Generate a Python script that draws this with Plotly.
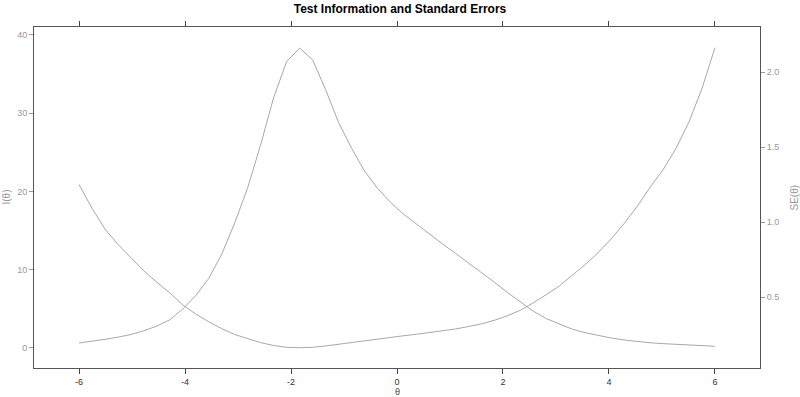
import plotly.graph_objects as go

theta = [-6.000, -5.755, -5.510, -5.265, -5.020, -4.776, -4.531, -4.286, -4.041, -3.796,
         -3.551, -3.306, -3.061, -2.816, -2.571, -2.327, -2.082, -1.837, -1.592, -1.347,
         -1.102, -0.857, -0.612, -0.367, -0.122, 0.122, 0.367, 0.612, 0.857, 1.102,
         1.347, 1.592, 1.837, 2.082, 2.327, 2.571, 2.816, 3.061, 3.306, 3.551,
         3.796, 4.041, 4.286, 4.531, 4.776, 5.020, 5.265, 5.510, 5.755, 6.000]

information = [0.64, 0.84, 1.1, 1.38, 1.72, 2.2, 2.8, 3.6, 5.0, 6.7,
               8.9, 12.0, 16.0, 20.5, 26.0, 32.0, 36.6, 38.3, 36.8, 33.0,
               28.8, 25.5, 22.6, 20.4, 18.6, 17.1, 15.8, 14.6, 13.3, 12.1,
               10.9, 9.7, 8.4, 7.1, 5.9, 4.7, 3.75, 3.05, 2.4, 1.95,
               1.58, 1.27, 1.02, 0.82, 0.66, 0.55, 0.45, 0.36, 0.28, 0.214]

std_error = [1.250, 1.091, 0.953, 0.851, 0.762, 0.674, 0.598, 0.527, 0.447, 0.386,
             0.335, 0.289, 0.250, 0.221, 0.196, 0.177, 0.165, 0.162, 0.165, 0.174,
             0.186, 0.198, 0.210, 0.221, 0.232, 0.242, 0.252, 0.262, 0.274, 0.287,
             0.303, 0.321, 0.345, 0.375, 0.412, 0.461, 0.516, 0.573, 0.645, 0.716,
             0.796, 0.887, 0.990, 1.104, 1.231, 1.348, 1.491, 1.667, 1.890, 2.162]

x_ticks = [-6, -4, -2, 0, 2, 4, 6]
y_ticks = [0, 10, 20, 30, 40]
y2_ticks = [0.5, 1.0, 1.5, 2.0]
y2_labels = ["0.5", "1.0", "1.5", "2.0"]

FONT = "Liberation Sans, Arial, sans-serif"
LINE = "#a8a8a8"
W, H = 800, 397
L, R, T, B = 34, 40, 27, 29

fig = go.Figure()
fig.add_trace(go.Scatter(x=theta, y=information, mode="lines",
                         line=dict(color=LINE, width=1), yaxis="y", showlegend=False))
fig.add_trace(go.Scatter(x=theta, y=std_error, mode="lines",
                         line=dict(color=LINE, width=1), yaxis="y2", showlegend=False))

fig.update_layout(
    width=W, height=H,
    margin=dict(l=L, r=R, t=T, b=B, autoexpand=False),
    paper_bgcolor="white", plot_bgcolor="white",
    font=dict(family=FONT, size=9, color="#333"),
    title=dict(text="<b>Test Information and Standard Errors</b>",
               x=0.5, xref="container", y=1 - 9 / H, yref="container",
               yanchor="middle", xanchor="center",
               font=dict(family=FONT, size=12, color="black")),
    xaxis=dict(range=[-6.85, 6.85], tickvals=x_ticks, ticktext=[str(v) for v in x_ticks],
               showgrid=False, zeroline=False, showline=True, linecolor="#555", linewidth=1,
               mirror="ticks", ticks="outside", ticklen=5, tickcolor="#444",
               tickfont=dict(size=9, color="#333"), automargin=False),
    yaxis=dict(range=[-2.56, 41.0], tickvals=y_ticks, ticktext=[str(v) for v in y_ticks],
               showgrid=False, zeroline=False, showline=True, linecolor="#555", linewidth=1,
               mirror=True, ticks="outside", ticklen=4, tickcolor="#999",
               tickfont=dict(size=9, color="#999"), automargin=False),
    yaxis2=dict(range=[0.027, 2.30], tickvals=y2_ticks, ticktext=y2_labels,
                overlaying="y", side="right", anchor="x",
                showgrid=False, zeroline=False, showline=True, linecolor="#555", linewidth=1,
                ticks="outside", ticklen=4, tickcolor="#999",
                tickfont=dict(size=9, color="#999"), automargin=False),
    annotations=[
        dict(text="θ", xref="paper", yref="paper", x=0.5, y=-(392 - (H - B)) / (H - T - B),
             showarrow=False, yanchor="middle", xanchor="center",
             font=dict(family=FONT, size=9, color="#444")),
        dict(text="I(θ)", xref="paper", yref="paper", x=-(L - 6) / (W - L - R), y=0.5,
             showarrow=False, textangle=-90, xanchor="center", yanchor="middle",
             font=dict(family=FONT, size=10, color="#999")),
        dict(text="SE(θ)", xref="paper", yref="paper", x=1 + (794 - (W - R)) / (W - L - R), y=0.5,
             showarrow=False, textangle=-90, xanchor="center", yanchor="middle",
             font=dict(family=FONT, size=10, color="#999")),
    ],
)

fig.write_html("out.html", config={"displayModeBar": False},
               post_script="document.body.style.margin='0';document.body.style.overflow='hidden';")
